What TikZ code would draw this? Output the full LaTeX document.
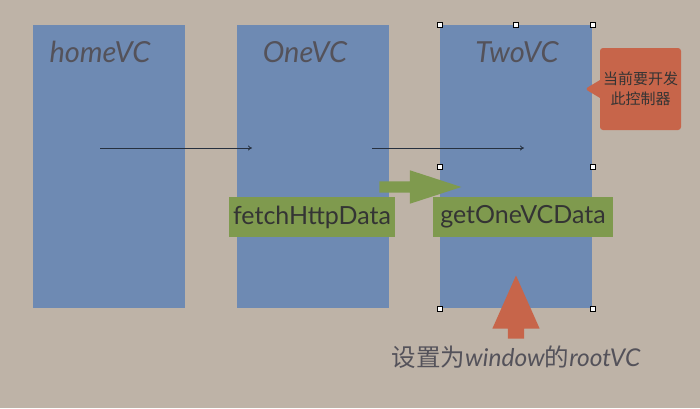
\documentclass[tikz,border=0pt]{standalone}
\usepackage{fontspec}
\setmainfont{Lato}
\newfontfamily\cjk{Noto Sans CJK SC}
\usetikzlibrary{shapes.arrows, shapes.callouts, arrows.meta, positioning}
\definecolor{bgbeige}{RGB}{190,179,167}
\definecolor{vcblue}{RGB}{110,138,179}
\definecolor{lblgreen}{RGB}{127,154,78}
\definecolor{hintred}{RGB}{199,101,74}
\definecolor{titlegray}{RGB}{84,82,90}
\definecolor{textdark}{RGB}{52,52,52}

\begin{document}
\begin{tikzpicture}[x=1pt, y=-1pt,
  vc/.style={rectangle, fill=vcblue, minimum width=152pt, minimum height=283pt, inner sep=0pt, anchor=north west},
  title/.style={font=\fontsize{29}{32}\selectfont\itshape, text=titlegray, inner sep=0pt},
  method/.style={rectangle, fill=lblgreen, minimum height=40pt, inner sep=0pt, text=textdark, font=\fontsize{25}{28}\selectfont},
  handle/.style={rectangle, draw=black, fill=white, line width=0.6pt, minimum size=5pt, inner sep=0pt},
  flow/.style={-{To[length=4pt, width=5pt]}, draw=black!65!vcblue, line width=0.8pt},
  bigarr/.style={single arrow, inner xsep=0pt, draw=none}]
\fill[bgbeige] (0,0) rectangle (700,408);
% view controllers
\node[vc] (home) at (33,25) {};
\node[vc] (one) at (237,25) {};
\node[vc] (two) at (440,25) {};
\node[title] (homet) at (100,52) {homeVC};
\node[title] (onet) at (305,52) {OneVC};
\node[title] (twot) at (517,52) {TwoVC};
% push arrows
\coordinate (s1) at (100,148); \coordinate (e1) at (252,148);
\coordinate (s2) at (372,148); \coordinate (e2) at (524,148);
\draw[flow] (s1) -- (e1);
\draw[flow] (s2) -- (e2);
% selection handles
\foreach \a [count=\i] in {north west, north, north east, west, east, south west, south, south east}
  \node[handle] (h\i) at (two.\a) {};
% data methods
\node[method, minimum width=166pt] (fetch) at (312,217) {fetchHttpData};
\node[method, minimum width=180pt] (getdata) at (523,217) {getOneVCData};
\node[bigarr, fill=lblgreen, anchor=tip, inner ysep=5.5pt, minimum height=82pt, single arrow head extend=11pt, single arrow tip angle=36] (pass) at (462,187) {};
% root marker
\node[bigarr, fill=hintred, rotate=90, anchor=tip, inner ysep=8pt, minimum height=63pt, single arrow head extend=15.5pt, single arrow tip angle=48] (root) at (516,275) {};
\node[text=titlegray, inner sep=0pt, font=\fontsize{24.5}{28}\selectfont] (roott) at (516,357) {\cjk 设置为\rmfamily\itshape window\cjk 的\rmfamily\itshape rootVC};
% callout
\node[rectangle callout, fill=hintred, rounded corners=3pt, minimum width=81pt, minimum height=82pt, inner sep=0pt,
  callout absolute pointer={(585,89)}, callout pointer width=18pt, align=center, text=textdark,
  font=\cjk\fontsize{15}{20}\selectfont] (hint) at (640.5,89) {当前要开发\\此控制器};
\end{tikzpicture}
\end{document}
